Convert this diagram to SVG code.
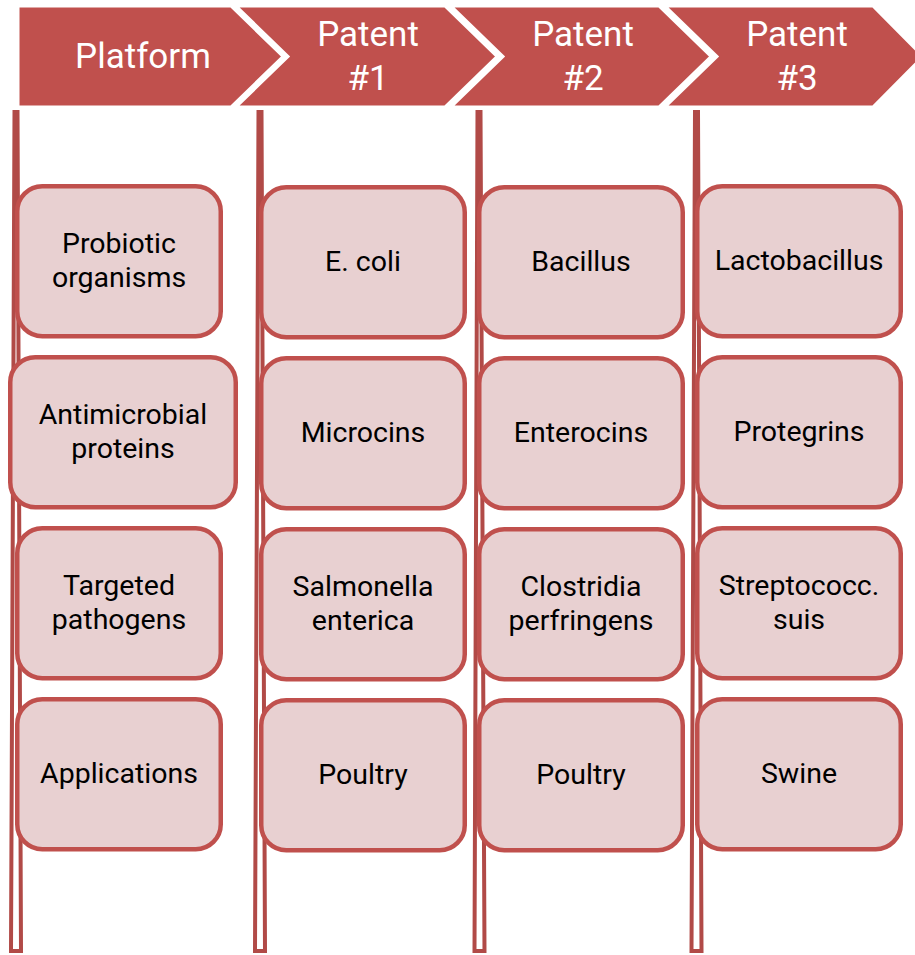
<svg xmlns="http://www.w3.org/2000/svg" width="915" height="955" viewBox="0 0 915 955">
<style>
.chev{fill:#C0504D;stroke:#FFFFFF;stroke-width:3;stroke-linejoin:miter}
.ht{font-family:Roboto,"Open Sans",sans-serif;font-size:35px;fill:#FFFFFF;text-anchor:middle}
.bar{fill:#FFFFFF;stroke:#B14A47;stroke-width:4;stroke-linejoin:miter}
.box{fill:#E8D0D1;stroke:#C0504D;stroke-width:4.5}
.bt{font-family:Roboto,"Open Sans",sans-serif;font-size:28.5px;fill:#000000;text-anchor:middle}
</style>
<rect width="915" height="955" fill="#FFFFFF"/>
<g id="connectors">
<polygon class="bar" points="14.5,112 17.5,112 21,951 11,951"/>
<polygon class="bar" points="258.5,112 261.5,112 265,951 255,951"/>
<polygon class="bar" points="477.5,112 480.5,112 484.5,951 474.5,951"/>
<polygon class="bar" points="695,112 698,112 701.5,951 691.5,951"/>
</g>
<g id="h0"><polygon class="chev" points="18,6 231,6 283,56.5 231,107 18,107"/><text class="ht" x="143" y="68">Platform</text></g>
<g id="h1"><polygon class="chev" points="236,6 445,6 497,56.5 445,107 236,107 288,56.5"/><text class="ht" x="368" y="46">Patent</text><text class="ht" x="368" y="90">#1</text></g>
<g id="h2"><polygon class="chev" points="451,6 659,6 711,56.5 659,107 451,107 503,56.5"/><text class="ht" x="583" y="46">Patent</text><text class="ht" x="583" y="90">#2</text></g>
<g id="h3"><polygon class="chev" points="665,6 873,6 923,56.5 873,107 665,107 717,56.5"/><text class="ht" x="797" y="46">Patent</text><text class="ht" x="797" y="90">#3</text></g>

<g id="n11"><rect class="box" x="17.25" y="186.25" width="203.5" height="150" rx="25"/><text class="bt" x="119" y="253">Probiotic</text><text class="bt" x="119" y="287">organisms</text></g>
<g id="n12"><rect class="box" x="10.25" y="357.25" width="225.5" height="150" rx="25"/><text class="bt" x="123" y="424">Antimicrobial</text><text class="bt" x="123" y="458">proteins</text></g>
<g id="n13"><rect class="box" x="17.25" y="528.25" width="203.5" height="150" rx="25"/><text class="bt" x="119" y="595">Targeted</text><text class="bt" x="119" y="629">pathogens</text></g>
<g id="n14"><rect class="box" x="17.25" y="699.25" width="203.5" height="150" rx="25"/><text class="bt" x="119" y="783">Applications</text></g>

<g id="n21"><rect class="box" x="261.25" y="187.25" width="203.5" height="150" rx="25"/><text class="bt" x="363" y="271">E. coli</text></g>
<g id="n22"><rect class="box" x="261.25" y="358.25" width="203.5" height="150" rx="25"/><text class="bt" x="363" y="442">Microcins</text></g>
<g id="n23"><rect class="box" x="261.25" y="529.25" width="203.5" height="150" rx="25"/><text class="bt" x="363" y="596">Salmonella</text><text class="bt" x="363" y="630">enterica</text></g>
<g id="n24"><rect class="box" x="261.25" y="700.25" width="203.5" height="150" rx="25"/><text class="bt" x="363" y="784">Poultry</text></g>

<g id="n31"><rect class="box" x="479.25" y="187.25" width="203.5" height="150" rx="25"/><text class="bt" x="581" y="271">Bacillus</text></g>
<g id="n32"><rect class="box" x="479.25" y="358.25" width="203.5" height="150" rx="25"/><text class="bt" x="581" y="442">Enterocins</text></g>
<g id="n33"><rect class="box" x="479.25" y="529.25" width="203.5" height="150" rx="25"/><text class="bt" x="581" y="596">Clostridia</text><text class="bt" x="581" y="630">perfringens</text></g>
<g id="n34"><rect class="box" x="479.25" y="700.25" width="203.5" height="150" rx="25"/><text class="bt" x="581" y="784">Poultry</text></g>

<g id="n41"><rect class="box" x="697.25" y="186.25" width="203.5" height="150" rx="25"/><text class="bt" x="799" y="270">Lactobacillus</text></g>
<g id="n42"><rect class="box" x="697.25" y="357.25" width="203.5" height="150" rx="25"/><text class="bt" x="799" y="441">Protegrins</text></g>
<g id="n43"><rect class="box" x="697.25" y="528.25" width="203.5" height="150" rx="25"/><text class="bt" x="799" y="595">Streptococc.</text><text class="bt" x="799" y="629">suis</text></g>
<g id="n44"><rect class="box" x="697.25" y="699.25" width="203.5" height="150" rx="25"/><text class="bt" x="799" y="783">Swine</text></g>
</svg>
